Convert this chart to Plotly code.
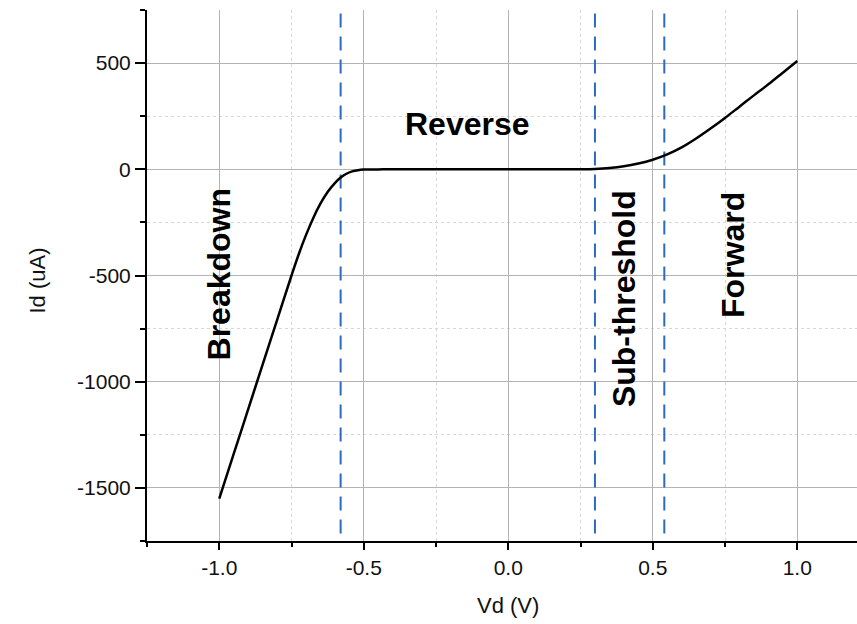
import plotly.graph_objects as go

# ---- data ----
vd = [-1.0, -0.95, -0.9, -0.85, -0.8, -0.75, -0.725, -0.7, -0.675, -0.65, -0.625, -0.6,
      -0.58, -0.56, -0.54, -0.52, -0.5, -0.45, -0.4, -0.3, -0.2, -0.1, 0.0, 0.1, 0.2,
      0.25, 0.3, 0.35, 0.4, 0.45, 0.5, 0.55, 0.6, 0.65, 0.7, 0.75, 0.8, 0.85, 0.9,
      0.95, 1.0]
id_ua = [-1550, -1340, -1130, -920, -710, -500, -400, -310, -230, -162, -107, -65,
         -39, -21, -10, -4, -1.5, -0.5, 0, 0, 0, 0, 0, 0, 0,
         0.5, 2, 6, 14, 27, 45, 70, 103, 145, 192, 242, 295, 348, 400,
         455, 510]

boundaries = [-0.58, 0.30, 0.54]
boundary_span = [-1715, 750]

region_labels = ["Reverse", "Breakdown", "Sub-threshold", "Forward"]
region_x = [-0.142, -1.0, 0.40, 0.78]
region_y = [212, -494, -607, -405]
region_angle = [0, -90, -90, -90]

x_tickvals = [-1.0, -0.5, 0.0, 0.5, 1.0]
x_ticktext = ["-1.0", "-0.5", "0.0", "0.5", "1.0"]
y_tickvals = [-1500, -1000, -500, 0, 500]
y_ticktext = ["-1500", "-1000", "-500", "0", "500"]

FONT = "Arial, Liberation Sans, sans-serif"

fig = go.Figure()

for b in boundaries:
    fig.add_trace(go.Scatter(
        x=[b, b], y=boundary_span, mode="lines",
        line=dict(color="#2d6bc0", width=2, dash="14px,9px"),
        hoverinfo="skip", showlegend=False, cliponaxis=False))

fig.add_trace(go.Scatter(
    x=vd, y=id_ua, mode="lines",
    line=dict(color="black", width=2.5, shape="spline", smoothing=1.0),
    showlegend=False))

for t, x, y, a in zip(region_labels, region_x, region_y, region_angle):
    fig.add_annotation(x=x, y=y, xref="x", yref="y", text="<b>%s</b>" % t,
                       textangle=a, showarrow=False,
                       font=dict(family=FONT, size=32, color="black"))

W, H = 857, 624
L, R, T, B = 147, 0, 10, 83
pw, ph = W - L - R, H - T - B

# axis titles (positions in pixel terms converted to paper coords)
fig.add_annotation(x=0.0, xref="x", y=(H - B - 605) / ph, yref="paper",
                   yanchor="middle", text="Vd (V)", showarrow=False,
                   font=dict(family=FONT, size=22, color="#111"))
fig.add_annotation(x=(22 - L) / pw, xref="paper", y=(H - B - 281) / ph, yref="paper",
                   text="Id (uA)", textangle=-90, showarrow=False,
                   font=dict(family=FONT, size=22, color="#111"))

fig.update_xaxes(
    range=[-1.25, -1.25 + pw / 289.0],
    tickvals=x_tickvals, ticktext=x_ticktext,
    showline=True, linecolor="black", linewidth=2,
    ticks="outside", ticklen=7, tickwidth=2, tickcolor="black",
    showgrid=True, gridcolor="#b4b4b4", gridwidth=1, zeroline=False,
    tickfont=dict(family=FONT, size=21, color="#111"),
    minor=dict(dtick=0.25, tick0=0, ticks="outside", ticklen=4, tickwidth=2,
               tickcolor="black", showgrid=True, gridcolor="#d6d6d6",
               griddash="dot", gridwidth=1),
)
fig.update_yaxes(
    range=[-1750, 750],
    tickvals=y_tickvals, ticktext=y_ticktext,
    showline=True, linecolor="black", linewidth=2,
    ticks="outside", ticklen=10, tickwidth=2, tickcolor="black",
    showgrid=True, gridcolor="#b4b4b4", gridwidth=1, zeroline=False,
    tickfont=dict(family=FONT, size=21, color="#111"),
    minor=dict(dtick=250, tick0=0, ticks="outside", ticklen=5, tickwidth=2,
               tickcolor="black", showgrid=True, gridcolor="#d6d6d6",
               griddash="dot", gridwidth=1),
)

fig.update_layout(
    width=W, height=H,
    margin=dict(l=L, r=R, t=T, b=B),
    paper_bgcolor="white", plot_bgcolor="white",
    font=dict(family=FONT),
    showlegend=False,
)

fig.write_html("out.html", config={"displayModeBar": False},
               post_script="document.body.style.margin='0px';document.body.style.overflow='hidden';")
